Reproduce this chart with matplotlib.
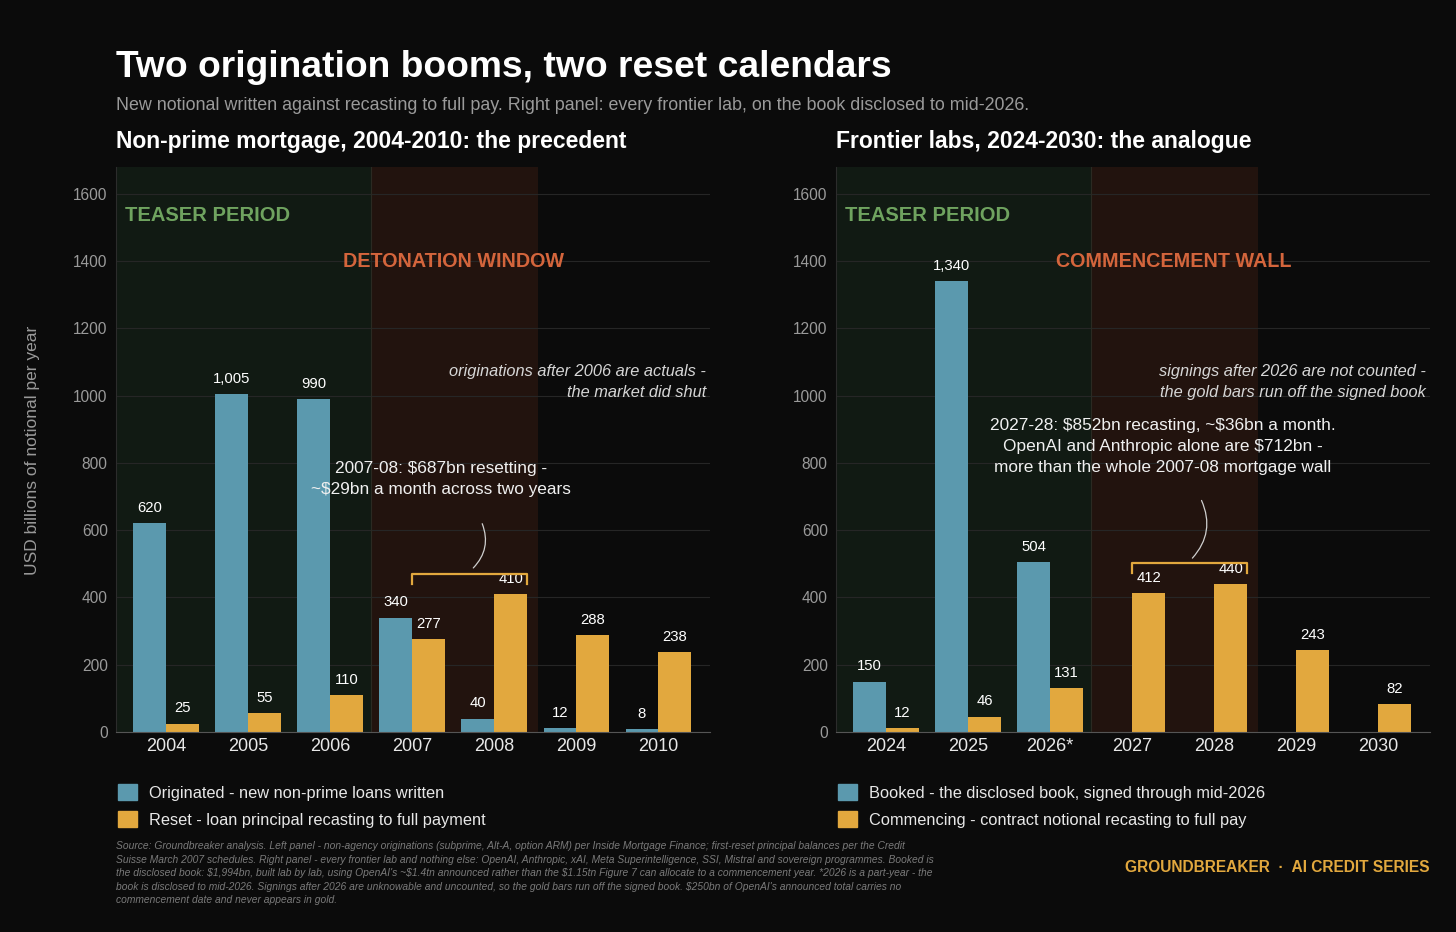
import numpy as np
import matplotlib.pyplot as plt
from matplotlib.patches import Patch

plt.rcParams['font.family'] = ['Liberation Sans', 'DejaVu Sans']

# data
left_years = ["2004", "2005", "2006", "2007", "2008", "2009", "2010"]
originated = [620, 1005, 990, 340, 40, 12, 8]
reset = [25, 55, 110, 277, 410, 288, 238]

right_years = ["2024", "2025", "2026*", "2027", "2028", "2029", "2030"]
booked = [150, 1340, 504, np.nan, np.nan, np.nan, np.nan]
commencing = [12, 46, 131, 412, 440, 243, 82]

BG = "#0b0b0b"
BLUE = "#5b99ae"
GOLD = "#e2a83e"
GREEN_TXT = "#6fa35f"
RED_TXT = "#d4653c"

fig = plt.figure(figsize=(14.56, 9.32), dpi=100, facecolor=BG)

ax_l = fig.add_axes([0.0797, 0.2146, 0.408, 0.6062])
ax_r = fig.add_axes([0.5742, 0.2146, 0.408, 0.6062])


def draw_panel(ax, years, blue, gold, zone_label, note, main_txt, main_xy, bracket_y, arc):
    ax.set_facecolor(BG)
    x = np.arange(len(years))
    ax.set_xlim(-0.61, 6.63)
    ax.set_ylim(0, 1680)
    ax.axvspan(-0.61, 2.5, color="#111a13", zorder=0, lw=0)
    ax.axvspan(2.5, 4.53, color="#22130e", zorder=0, lw=0)
    ax.axvline(2.5, color="#2b2a22", lw=0.8, zorder=0.6)
    ax.set_yticks(range(0, 1601, 200))
    ax.grid(axis="y", color="#262626", lw=0.8)
    ax.set_axisbelow(True)

    b1 = ax.bar(x - 0.2, blue, width=0.4, color=BLUE, zorder=2)
    b2 = ax.bar(x + 0.2, gold, width=0.4, color=GOLD, zorder=2)
    for xi, v in zip(x, blue):
        if not np.isnan(v):
            ax.annotate(f"{v:,.0f}", (xi - 0.2, v), xytext=(0, 6), textcoords="offset points",
                        ha="center", va="bottom", color="white", fontsize=10.7)
    for xi, v in zip(x, gold):
        ax.annotate(f"{v:,.0f}", (xi + 0.2, v), xytext=(0, 6), textcoords="offset points",
                    ha="center", va="bottom", color="white", fontsize=10.7)

    ax.set_xticks(x)
    ax.set_xticklabels(years, color="#e8e8e8", fontsize=13)
    ax.tick_params(axis="y", colors="#9a9a9a", labelsize=11.2, length=0, pad=6)
    ax.tick_params(axis="x", length=0, pad=4)
    for s in ["top", "right"]:
        ax.spines[s].set_visible(False)
    ax.spines["left"].set_color("#2c2c2c")
    ax.spines["bottom"].set_color("#555555")

    ax.text(-0.5, 1535, "TEASER PERIOD", color=GREEN_TXT, fontsize=14.5, fontweight="bold",
            va="center", ha="left")
    ax.text(3.5, 1400, zone_label, color=RED_TXT, fontsize=14.2, fontweight="bold",
            va="center", ha="center")
    ax.text(6.58, 1040, note, color="#d6d6d6", fontsize=11.8, style="italic",
            ha="right", va="center", linespacing=1.5, parse_math=False)
    ax.text(main_xy[0], main_xy[1], main_txt, color="#f0f0f0", fontsize=12.4,
            ha="center", va="center", linespacing=1.5, parse_math=False)

    # bracket over the two reset years
    ax.plot([3.0, 3.0, 4.4, 4.4], [bracket_y - 30, bracket_y, bracket_y, bracket_y - 30],
            color=GOLD, lw=1.6, zorder=3)
    ax.annotate("", xy=arc[1], xytext=arc[0],
                arrowprops=dict(arrowstyle="-", color="#cfcfcf", lw=0.9,
                                connectionstyle="arc3,rad=-0.35"))
    return b1, b2


b1, b2 = draw_panel(ax_l, left_years, originated, reset, "DETONATION WINDOW",
                    "originations after 2006 are actuals -\nthe market did shut",
                    "2007-08: $687bn resetting -\n~$29bn a month across two years",
                    (3.35, 752), 470, ((3.84, 627), (3.72, 482)))
b3, b4 = draw_panel(ax_r, right_years, booked, commencing, "COMMENCEMENT WALL",
                    "signings after 2026 are not counted -\nthe gold bars run off the signed book",
                    "2027-28: $852bn recasting, ~$36bn a month.\nOpenAI and Anthropic alone are $712bn -\nmore than the whole 2007-08 mortgage wall",
                    (3.37, 850), 502, ((3.83, 696), (3.71, 511)))

leg_kw = dict(loc="upper left", bbox_to_anchor=(-0.022, -0.066), frameon=False,
              labelcolor="#e8e8e8", fontsize=11.8, handlelength=1.15, handleheight=1.15,
              handletextpad=0.75, labelspacing=0.62)
ax_l.legend([Patch(color=BLUE), Patch(color=GOLD)],
            ["Originated - new non-prime loans written",
             "Reset - loan principal recasting to full payment"], **leg_kw)
ax_r.legend([Patch(color=BLUE), Patch(color=GOLD)],
            ["Booked - the disclosed book, signed through mid-2026",
             "Commencing - contract notional recasting to full pay"], **leg_kw)

fig.text(0.0797, 0.928, "Two origination booms, two reset calendars", color="white",
         fontsize=26.8, fontweight="bold", va="center")
fig.text(0.0797, 0.887, "New notional written against recasting to full pay. Right panel: every frontier lab, "
         "on the book disclosed to mid-2026.", color="#9a9a9a", fontsize=12.9, va="center")
fig.text(0.0797, 0.848, "Non-prime mortgage, 2004-2010: the precedent", color="white",
         fontsize=16.5, fontweight="bold", va="center")
fig.text(0.5742, 0.848, "Frontier labs, 2024-2030: the analogue", color="white",
         fontsize=16.5, fontweight="bold", va="center")
fig.text(0.022, 0.517, "USD billions of notional per year", color="#9a9a9a", fontsize=12.5,
         rotation=90, va="center", ha="center")

source = ("Source: Groundbreaker analysis. Left panel - non-agency originations (subprime, Alt-A, option ARM) per Inside Mortgage Finance; first-reset principal balances per the Credit\n"
          "Suisse March 2007 schedules. Right panel - every frontier lab and nothing else: OpenAI, Anthropic, xAI, Meta Superintelligence, SSI, Mistral and sovereign programmes. Booked is\n"
          "the disclosed book: $1,994bn, built lab by lab, using OpenAI's ~$1.4tn announced rather than the $1.15tn Figure 7 can allocate to a commencement year. *2026 is a part-year - the\n"
          "book is disclosed to mid-2026. Signings after 2026 are unknowable and uncounted, so the gold bars run off the signed book. $250bn of OpenAI's announced total carries no\n"
          "commencement date and never appears in gold.")
fig.text(0.0797, 0.0630, source, color="#7a7a7a", fontsize=7.4, style="italic",
         va="center", ha="left", linespacing=1.45, parse_math=False,
         family=["Liberation Sans Narrow", "Liberation Sans"])
fig.text(0.982, 0.0695, "GROUNDBREAKER  \u00b7  AI CREDIT SERIES", color=GOLD, fontsize=11.2,
         fontweight="bold", ha="right", va="center")

fig.savefig("out.png", dpi=100, facecolor=BG)
